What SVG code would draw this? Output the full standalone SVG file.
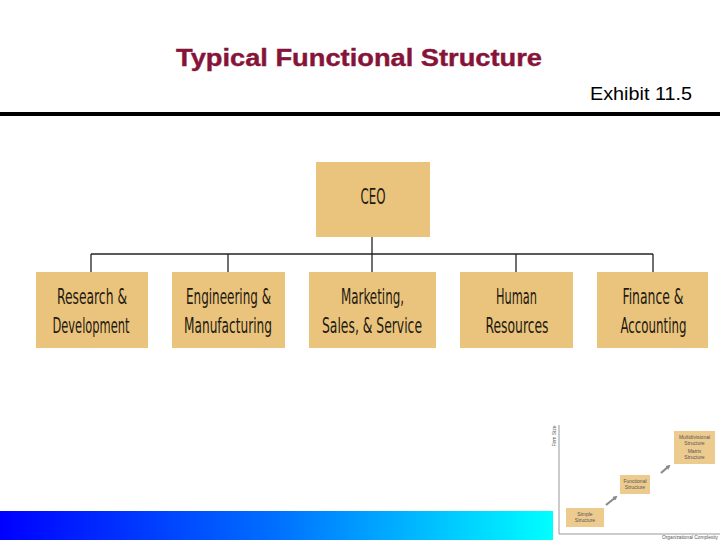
<svg xmlns="http://www.w3.org/2000/svg" width="720" height="540" viewBox="0 0 720 540">
  <defs>
    <linearGradient id="bar" x1="0" y1="0" x2="1" y2="0">
      <stop offset="0" stop-color="#0000FF"/>
      <stop offset="0.5" stop-color="#0070FF"/>
      <stop offset="1" stop-color="#00FFFF"/>
    </linearGradient>
    <marker id="garrow" viewBox="0 0 10 10" refX="6" refY="5" markerWidth="2.2" markerHeight="2.2" orient="auto">
      <path d="M0,0 L10,5 L0,10 z" fill="#8a8a8a"/>
    </marker>
  </defs>
  <style>
    .title { font-family: "Liberation Sans", Arial, sans-serif; font-weight: bold; font-size: 24px; fill: #861439; stroke: #861439; stroke-width: 0.4; }
    .exhibit { font-family: "Liberation Sans", Arial, sans-serif; font-size: 18px; fill: #000; }
    .box { fill: #EAC47D; }
    .lbl { font-family: "Liberation Sans Narrow", "DejaVu Sans Condensed", "Liberation Sans", sans-serif; font-size: 21px; fill: #1F1A12; text-anchor: middle; }
    .conn { stroke: #222; stroke-width: 1.3; fill: none; }
    .tbox { fill: #EDCB8E; }
    .tlbl { font-family: "Liberation Sans", Arial, sans-serif; font-size: 5px; fill: #555; text-anchor: middle; }
    .axis { stroke: #999; stroke-width: 1; fill: none; }
    .tarrow { stroke: #8a8a8a; stroke-width: 2.2; fill: none; }
  </style>

  <rect x="0" y="0" width="720" height="540" fill="#fff"/>

  <text class="title" x="176" y="66" textLength="366" lengthAdjust="spacingAndGlyphs">Typical Functional Structure</text>
  <text class="exhibit" x="590" y="100" textLength="102" lengthAdjust="spacingAndGlyphs">Exhibit 11.5</text>
  <rect x="0" y="112" width="720" height="4" fill="#000"/>

  <g id="connectors">
    <line class="conn" x1="372" y1="237" x2="372" y2="254"/>
    <line class="conn" x1="91" y1="254" x2="653" y2="254"/>
    <line class="conn" x1="91" y1="254" x2="91" y2="272"/>
    <line class="conn" x1="228" y1="254" x2="228" y2="272"/>
    <line class="conn" x1="372" y1="254" x2="372" y2="272"/>
    <line class="conn" x1="516" y1="254" x2="516" y2="272"/>
    <line class="conn" x1="653" y1="254" x2="653" y2="272"/>
  </g>

  <g id="ceo">
    <rect class="box" x="316" y="162" width="114" height="75"/>
    <text class="lbl" x="373" y="204" textLength="25" lengthAdjust="spacingAndGlyphs">CEO</text>
  </g>

  <g id="rnd">
    <rect class="box" x="36" y="272" width="112" height="76"/>
    <text class="lbl" x="92" y="304" textLength="70" lengthAdjust="spacingAndGlyphs">Research &amp;</text>
    <text class="lbl" x="91" y="333" textLength="77" lengthAdjust="spacingAndGlyphs">Development</text>
  </g>

  <g id="eng">
    <rect class="box" x="172" y="272" width="113" height="76"/>
    <text class="lbl" x="228.5" y="304" textLength="85" lengthAdjust="spacingAndGlyphs">Engineering &amp;</text>
    <text class="lbl" x="228" y="333" textLength="88" lengthAdjust="spacingAndGlyphs">Manufacturing</text>
  </g>

  <g id="mkt">
    <rect class="box" x="309" y="272" width="127" height="76"/>
    <text class="lbl" x="372.5" y="304" textLength="63" lengthAdjust="spacingAndGlyphs">Marketing,</text>
    <text class="lbl" x="372" y="333" textLength="100" lengthAdjust="spacingAndGlyphs">Sales, &amp; Service</text>
  </g>

  <g id="hr">
    <rect class="box" x="460" y="272" width="113" height="76"/>
    <text class="lbl" x="516.5" y="304" textLength="41" lengthAdjust="spacingAndGlyphs">Human</text>
    <text class="lbl" x="517" y="333" textLength="63" lengthAdjust="spacingAndGlyphs">Resources</text>
  </g>

  <g id="fin">
    <rect class="box" x="597" y="272" width="111" height="76"/>
    <text class="lbl" x="653" y="304" textLength="61" lengthAdjust="spacingAndGlyphs">Finance &amp;</text>
    <text class="lbl" x="653.5" y="333" textLength="66" lengthAdjust="spacingAndGlyphs">Accounting</text>
  </g>

  <rect x="0" y="511" width="553" height="29" fill="url(#bar)"/>

  <g id="thumbnail">
    <polyline class="axis" points="559,425 559,534 720,534"/>
    <text class="tlbl" transform="translate(556,436) rotate(-90)">Firm Size</text>
    <text class="tlbl" x="690" y="539" textLength="56" lengthAdjust="spacingAndGlyphs">Organizational Complexity</text>
    <rect class="tbox" x="566" y="508" width="38" height="19"/>
    <text class="tlbl" x="585" y="516">Simple</text>
    <text class="tlbl" x="585" y="522">Structure</text>
    <rect class="tbox" x="620" y="475" width="30" height="19"/>
    <text class="tlbl" x="635" y="483">Functional</text>
    <text class="tlbl" x="635" y="489">Structure</text>
    <rect class="tbox" x="674" y="431" width="41" height="33"/>
    <text class="tlbl" x="694.5" y="439">Multidivisional</text>
    <text class="tlbl" x="694.5" y="445">Structure</text>
    <text class="tlbl" x="694.5" y="453">Matrix</text>
    <text class="tlbl" x="694.5" y="459">Structure</text>
    <line class="tarrow" x1="606" y1="505" x2="616" y2="497" marker-end="url(#garrow)"/>
    <line class="tarrow" x1="661" y1="473" x2="669" y2="466" marker-end="url(#garrow)"/>
  </g>
</svg>
